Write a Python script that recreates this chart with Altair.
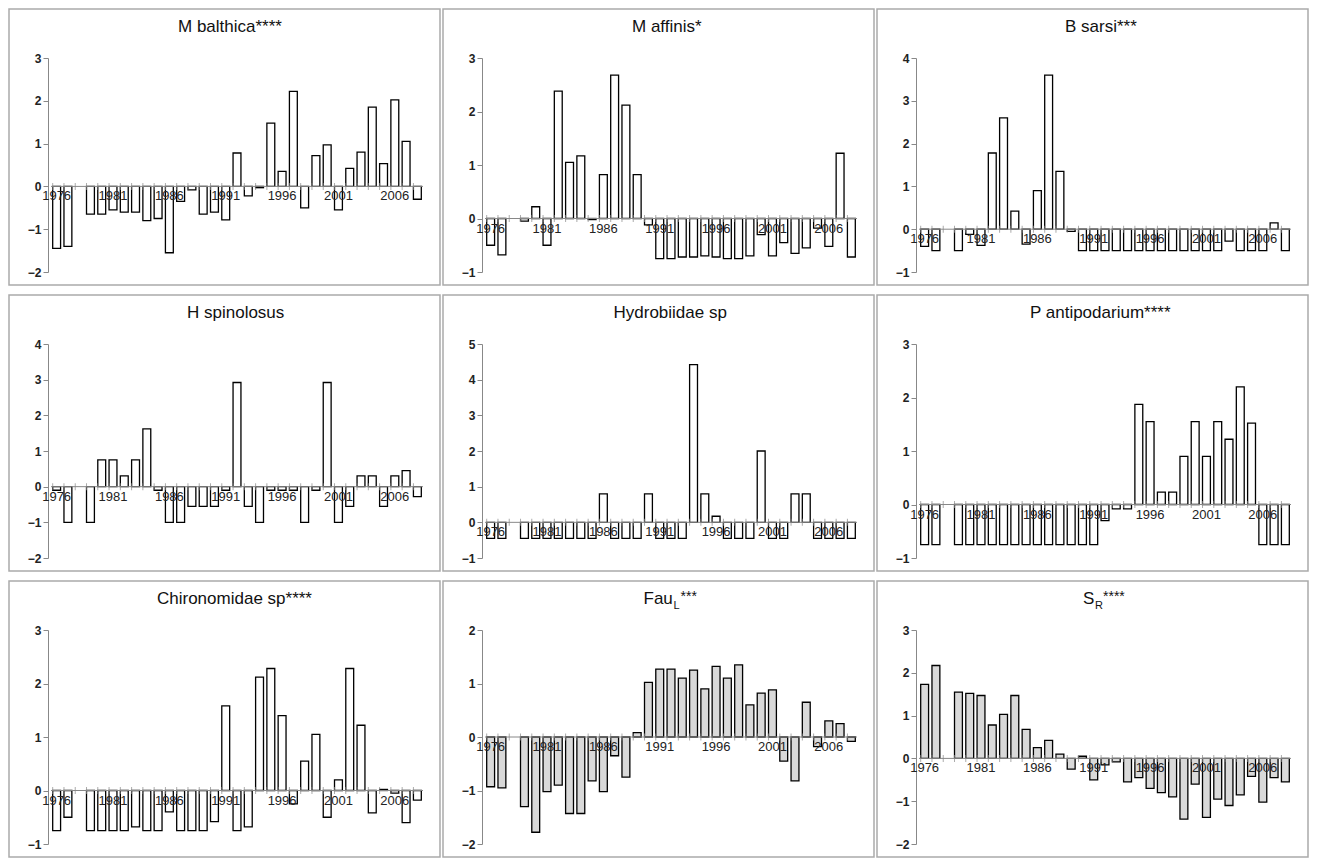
import altair as alt
import pandas as pd

years = list(range(1976, 2009))
label_years = [1976, 1981, 1986, 1991, 1996, 2001, 2006]
N = None

m_balthica = [-1.45, -1.4, N, -0.65, -0.65, -0.55, -0.6, -0.6, -0.8, -0.75, -1.55, -0.35, -0.08,
              -0.65, -0.6, -0.78, 0.78, -0.22, -0.03, 1.48, 0.35, 2.22, -0.5, 0.72, 0.97, -0.55,
              0.42, 0.8, 1.85, 0.53, 2.02, 1.05, -0.3]
m_affinis = [-0.5, -0.68, N, -0.05, 0.22, -0.5, 2.38, 1.05, 1.17, -0.02, 0.82, 2.68, 2.12, 0.82,
             -0.12, -0.75, -0.75, -0.72, -0.72, -0.7, -0.72, -0.75, -0.75, -0.7, -0.3, -0.7,
             -0.45, -0.65, -0.55, -0.18, -0.52, 1.22, -0.72]
b_sarsi = [-0.4, -0.5, N, -0.5, -0.12, -0.38, 1.78, 2.6, 0.42, -0.35, 0.9, 3.6, 1.35, -0.05,
           -0.5, -0.5, -0.5, -0.5, -0.5, -0.5, -0.5, -0.5, -0.5, -0.5, -0.5, -0.5, -0.5, -0.28,
           -0.5, -0.5, -0.5, 0.15, -0.5]
h_spinolosus = [-0.1, -1.0, N, -1.0, 0.75, 0.75, 0.3, 0.75, 1.62, -0.1, -1.0, -1.0, -0.55, -0.55,
                -0.55, -0.1, 2.92, -0.55, -1.0, -0.1, -0.1, -0.1, -1.0, -0.1, 2.92, -1.0, -0.55,
                0.3, 0.3, -0.55, 0.3, 0.45, -0.28]
hydrobiidae = [-0.45, -0.45, N, -0.45, -0.45, -0.45, -0.45, -0.45, -0.45, -0.45, 0.8, -0.45,
               -0.45, -0.45, 0.8, -0.45, -0.45, -0.45, 4.42, 0.8, 0.17, -0.45, -0.45, -0.45, 2.0,
               -0.45, -0.45, 0.8, 0.8, -0.45, -0.45, -0.45, -0.45]
p_antipodarium = [-0.75, -0.75, N, -0.75, -0.75, -0.75, -0.75, -0.75, -0.75, -0.75, -0.75, -0.75,
                  -0.75, -0.75, -0.75, -0.75, -0.3, -0.08, -0.08, 1.87, 1.55, 0.23, 0.23, 0.9,
                  1.55, 0.9, 1.55, 1.22, 2.2, 1.52, -0.75, -0.75, -0.75]
chironomidae = [-0.75, -0.5, N, -0.75, -0.75, -0.75, -0.75, -0.68, -0.75, -0.75, -0.4, -0.75,
                -0.75, -0.75, -0.58, 1.58, -0.75, -0.68, 2.12, 2.28, 1.4, -0.25, 0.55, 1.05, -0.5,
                0.2, 2.28, 1.22, -0.42, 0.02, -0.05, -0.6, -0.18]
fau_l = [-0.93, -0.95, N, -1.3, -1.78, -1.02, -0.9, -1.43, -1.43, -0.82, -1.02, -0.35, -0.75,
         0.08, 1.02, 1.27, 1.27, 1.1, 1.25, 0.9, 1.32, 1.1, 1.35, 0.6, 0.82, 0.88, -0.45, -0.82,
         0.65, -0.18, 0.3, 0.25, -0.08]
s_r = [1.73, 2.17, N, 1.55, 1.52, 1.47, 0.78, 1.03, 1.47, 0.68, 0.25, 0.42, 0.1, -0.25, 0.05,
       -0.5, -0.15, -0.08, -0.55, -0.45, -0.7, -0.8, -0.9, -1.42, -0.6, -1.38, -0.95, -1.1, -0.85,
       -0.42, -1.02, -0.45, -0.55]

# (title parts as (text, size, dy, advance), values, y-domain, fill)
panels = [
    ([("M balthica****", 17, 0, 118)], m_balthica, (-2, 3), "white"),
    ([("M affinis*", 17, 0, 78)], m_affinis, (-1, 3), "white"),
    ([("B sarsi***", 17, 0, 80)], b_sarsi, (-1, 4), "white"),
    ([("H spinolosus", 17, 0, 100)], h_spinolosus, (-2, 4), "white"),
    ([("Hydrobiidae sp", 17, 0, 115)], hydrobiidae, (-1, 5), "white"),
    ([("P antipodarium****", 17, 0, 150)], p_antipodarium, (-1, 3), "white"),
    ([("Chironomidae sp****", 17, 0, 160)], chironomidae, (-1, 3), "white"),
    ([("Fau", 17, 0, 30), ("L", 11, 5, 7), ("***", 14, -3, 18)], fau_l, (-2, 2), "#d9d9d9"),
    ([("S", 17, 0, 12), ("R", 11, 5, 8), ("****", 14, -3, 24)], s_r, (-2, 3), "#d9d9d9"),
]

W, H = 372, 214
FONT = "Liberation Sans"


def panel(parts, values, dom, fill):
    df = pd.DataFrame({"year": [str(y) for y in years], "v": values})
    lab = df[df["year"].isin([str(y) for y in label_years])]
    lo, hi = dom
    xs = alt.Scale(domain=[str(y) for y in years], paddingInner=0.3, paddingOuter=0.15)
    x = alt.X("year:O", scale=xs, axis=None)
    ys = alt.Scale(domain=[lo, hi], nice=False)
    y = alt.Y(
        "v:Q",
        scale=ys,
        axis=alt.Axis(
            title=None, values=list(range(lo, hi + 1)), tickCount=hi - lo + 1, grid=False,
            domainColor="#888", tickColor="#888", tickSize=5, labelFontSize=12,
            labelFontWeight="bold", labelColor="#222", labelFont=FONT, offset=3,
            labelOverlap=False,
        ),
    )
    frame = alt.Chart(df.head(1)).mark_rect(fill=None, stroke="#aaa", strokeWidth=1.5).encode(
        x=alt.value(-42), x2=alt.value(W + 17), y=alt.value(-49), y2=alt.value(H + 13)
    )
    bars = alt.Chart(df).mark_bar(fill=fill, stroke="black", strokeWidth=1.3).encode(
        x=x, y=y, y2=alt.datum(0)
    )
    zero = alt.Chart(df.head(1)).mark_rule(color="#888").encode(
        x=alt.value(0), x2=alt.value(W), y=alt.datum(0, scale=ys)
    )
    ticks = alt.Chart(df).mark_tick(color="#888", orient="vertical", size=7, thickness=1).encode(
        x=alt.X("year:O", scale=xs, bandPosition=0, axis=None), y=alt.datum(0, scale=ys)
    )
    labels = alt.Chart(lab).mark_text(
        fontSize=13, font=FONT, color="#222", baseline="top", dy=4
    ).encode(x=x, y=alt.datum(0, scale=ys), text="year:N")
    layers = [frame, bars, zero, ticks, labels]
    total = sum(p[3] for p in parts)
    cx = W / 2 - total / 2
    for t, s, dy, adv in parts:
        layers.append(
            alt.Chart(df.head(1)).mark_text(
                text=t, fontSize=s, font=FONT, align="left", baseline="alphabetic",
                color="#111", dy=dy,
            ).encode(x=alt.value(cx), y=alt.value(-26))
        )
        cx += adv
    return alt.layer(*layers).properties(width=W, height=H)


charts = [panel(*p) for p in panels]
chart = (
    alt.concat(*charts, columns=3, spacing=alt.RowColnumber(row=72, column=62), bounds="flush")
    .properties(padding=0)
    .configure_view(strokeWidth=0)
)

chart.save("out.html", embed_options={"renderer": "svg", "actions": False})
